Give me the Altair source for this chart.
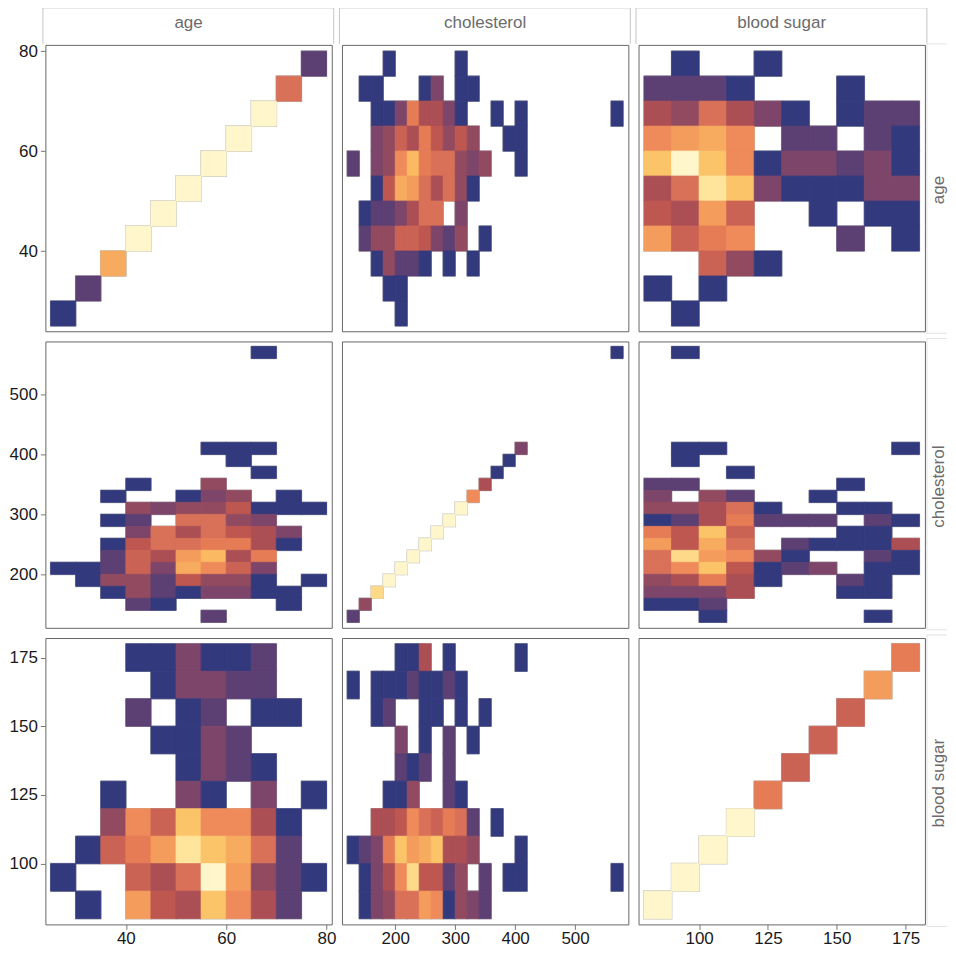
import altair as alt
import pandas as pd

NAMES = ["age", "cholesterol", "blood sugar"]
BIN_START = {"age": 25, "cholesterol": 120, "blood sugar": 80}
BIN_STEP = {"age": 5, "cholesterol": 20, "blood sugar": 10}
BIN_COUNT = {"age": 11, "cholesterol": 23, "blood sugar": 10}
DOMAINS = {"age": [23.95, 81.05], "cholesterol": [111.2, 588.8], "blood sugar": [78.0, 182.0]}
Y_DOMAINS = {"age": [23.94, 81.26], "cholesterol": [110.8, 588.3], "blood sugar": [77.9, 182.1]}
TICKS = {"age": [40, 60, 80], "cholesterol": [200, 300, 400, 500], "blood sugar": [100, 125, 150, 175]}

# one letter per count level, lowest count first
LEVELS = list("abcdefghijklpmqno")
COLORS = ["#323a7d", "#5c3f73", "#7d4569", "#924a60", "#ac4f54", "#bd5750", "#cb6355",
          "#d97058", "#e57c55", "#ef8a5a", "#f49c5c", "#f7ab5e", "#fbb961", "#fcc468",
          "#ffd98a", "#ffe49b", "#fff6cc"]

# rows run from the highest y bin to the lowest, left to right along the x bins
AGE_AGE = ["..........b", ".........h", "........o", ".......o", "......o", ".....o",
           "....o", "...o", "..l", ".b", "a"]
AGE_CHOL = ["...a.....a", ".aa...ac.aa", "..aacieeca..a.a.......a", "..cdgeifdfd..aa",
            "b.cdjpihhdcd..a", "..aflkhehda", ".abbcehh.c", ".bddggfcbd.a", "..adbba.a.a",
            "...aa", "....a"]
AGE_SUGAR = [".a..a", "bbba...a", "edheca.abb", "jklj.bb.ba", "momjaccbca", "ehnmcaaacc",
             "fekg..a.aa", "kgij...b.a", "..gda", "a.a", ".a"]
CHOL_AGE = ["........a", "", "", "", "", "", "", "", "......aaa", ".......a", "........a",
            "...a..d", "..a..acd.a", "...dcddfaaa", "..ab.hhdc", "...chehfec", "..afhhiiea",
            "..bgekpei", "aabgcljgc", ".addbfdda.a", "..adbaccaa", "...ba....a", "......b"]
CHOL_CHOL = ["......................a", "", "", "", "", "", "", "", "..............c",
             ".............a", "............a", "...........e", "..........j", ".........o",
             "........o", ".......o", "......o", ".....o", "....o", "...o", "..q", ".d", "b"]
CHOL_SUGAR = [".a", "", "", "", "", "", "", "", ".aa......a", ".a", "...a", "bb.....a",
              "c.db..a", "ddeha..aa", "abeibbb.ba", "ifmg...aa", "kflh.baaae", "hqkjda..ba",
              "hjmfabc.aa", "deiea..ba", "ccce...aa", "aab", "..a.....a"]
SUGAR_AGE = ["...aacaab", "....accbb", "...b.ab.aa", "....aacb", ".....acba", "..a..ca.c.a",
             "..djgmjjea", ".agiknmlhb", "a..gehokdba", ".a.kfemjeb"]
SUGAR_CHOL = ["....aae.a.....a", "a.aaabaaba", "..ab..aa.a.a", "....c.a.b.a", "....bab.b",
              "...aad..ba", "..eefjhgihb.a", "abcimklmeed...a", ".acejqffbd.b.aa.......a",
              ".acdhhkjadcb"]
SUGAR_SUGAR = [".........i", "........k", ".......g", "......g", ".....g", "....i", "...o",
               "..o", ".o", "o"]

GRIDS = [[AGE_AGE, AGE_CHOL, AGE_SUGAR],
         [CHOL_AGE, CHOL_CHOL, CHOL_SUGAR],
         [SUGAR_AGE, SUGAR_CHOL, SUGAR_SUGAR]]

W = 286.5
H = 286.5
GAP = 9.7
STRIP = "#c6c6c6"
SIDE = "#e2e2e2"
TEXT = "#6b6b6b"


def cells(grid, xname, yname):
    out = []
    nrows = BIN_COUNT[yname]
    for r, row in enumerate(grid):
        for c, ch in enumerate(row):
            if ch == ".":
                continue
            ylow = BIN_START[yname] + (nrows - 1 - r) * BIN_STEP[yname]
            xlow = BIN_START[xname] + c * BIN_STEP[xname]
            out.append({"x0": xlow, "x1": xlow + BIN_STEP[xname],
                        "y0": ylow, "y1": ylow + BIN_STEP[yname],
                        "level": ch})
    return pd.DataFrame(out)


def line(**kw):
    color = kw.pop("color")
    enc = {k: alt.value(v) for k, v in kw.items()}
    return alt.Chart().mark_rule(color=color, strokeWidth=1).encode(**enc)


def panel(r, c):
    xname, yname = NAMES[c], NAMES[r]
    df = cells(GRIDS[r][c], xname, yname)
    xaxis = alt.Axis(values=TICKS[xname], title=None, labelPadding=1.5) if r == 2 else None
    yaxis = alt.Axis(values=TICKS[yname], title=None) if c == 0 else None
    x = alt.X("x0:Q", scale=alt.Scale(domain=DOMAINS[xname], nice=False, zero=False), axis=xaxis)
    y = alt.Y("y0:Q", scale=alt.Scale(domain=Y_DOMAINS[yname], nice=False, zero=False), axis=yaxis)
    base = alt.Chart(df)
    fringe = base.mark_rect(fillOpacity=0, stroke="#bdbdbd", strokeWidth=1.6).encode(
        x=x, x2="x1:Q", y=y, y2="y1:Q")
    scale = alt.Scale(domain=LEVELS, range=COLORS)
    fill = base.mark_rect(strokeWidth=0.8).encode(
        x=x, x2="x1:Q", y=y, y2="y1:Q",
        color=alt.Color("level:N", scale=scale, legend=None),
        stroke=alt.Stroke("level:N", scale=scale, legend=None))
    layers = [fringe, fill]
    if r == 0:
        layers += [
            line(x=-2.5, x2=W + 2, y=-37, color=STRIP),
            line(x=-2.5, y=-37, y2=-1, color=STRIP),
            line(x=W + 2, y=-37, y2=-1, color=STRIP),
            alt.Chart().mark_text(text=xname, font="Liberation Sans", fontSize=17, color=TEXT,
                                  align="center", baseline="middle").encode(
                x=alt.value(W / 2), y=alt.value(-22)),
        ]
    if c == 2:
        top = -1 if r == 0 else -3
        bottom = H + 2
        layers += [
            line(x=W + 2, x2=W + 22, y=top, color=SIDE),
            line(x=W + 2, x2=W + 22, y=bottom, color=SIDE),
            line(x=W + 2, y=top, y2=bottom, color=SIDE),
            alt.Chart().mark_text(text=yname, font="Liberation Sans", fontSize=17, color=TEXT,
                                  align="center", baseline="middle", angle=270).encode(
                x=alt.value(W + 14.5), y=alt.value(H / 2 + 2)),
        ]
    return alt.layer(*layers).properties(width=W, height=H)


panels = [panel(r, c) for r in range(3) for c in range(3)]

chart = alt.concat(*panels, columns=3, spacing=GAP, bounds="flush").properties(
    padding={"left": 0.4, "top": -1.3, "right": 0, "bottom": 0},
    background="white",
).configure_view(stroke="#666666", strokeWidth=1).configure_axis(
    grid=False, domain=False, tickColor="#777777", tickSize=5, tickWidth=1,
    labelFont="Liberation Sans", labelFontSize=17, labelColor="#1a1a1a", labelPadding=3,
    labelFlush=False,
)

chart.save("out.html", embed_options={"renderer": "svg", "actions": False})
